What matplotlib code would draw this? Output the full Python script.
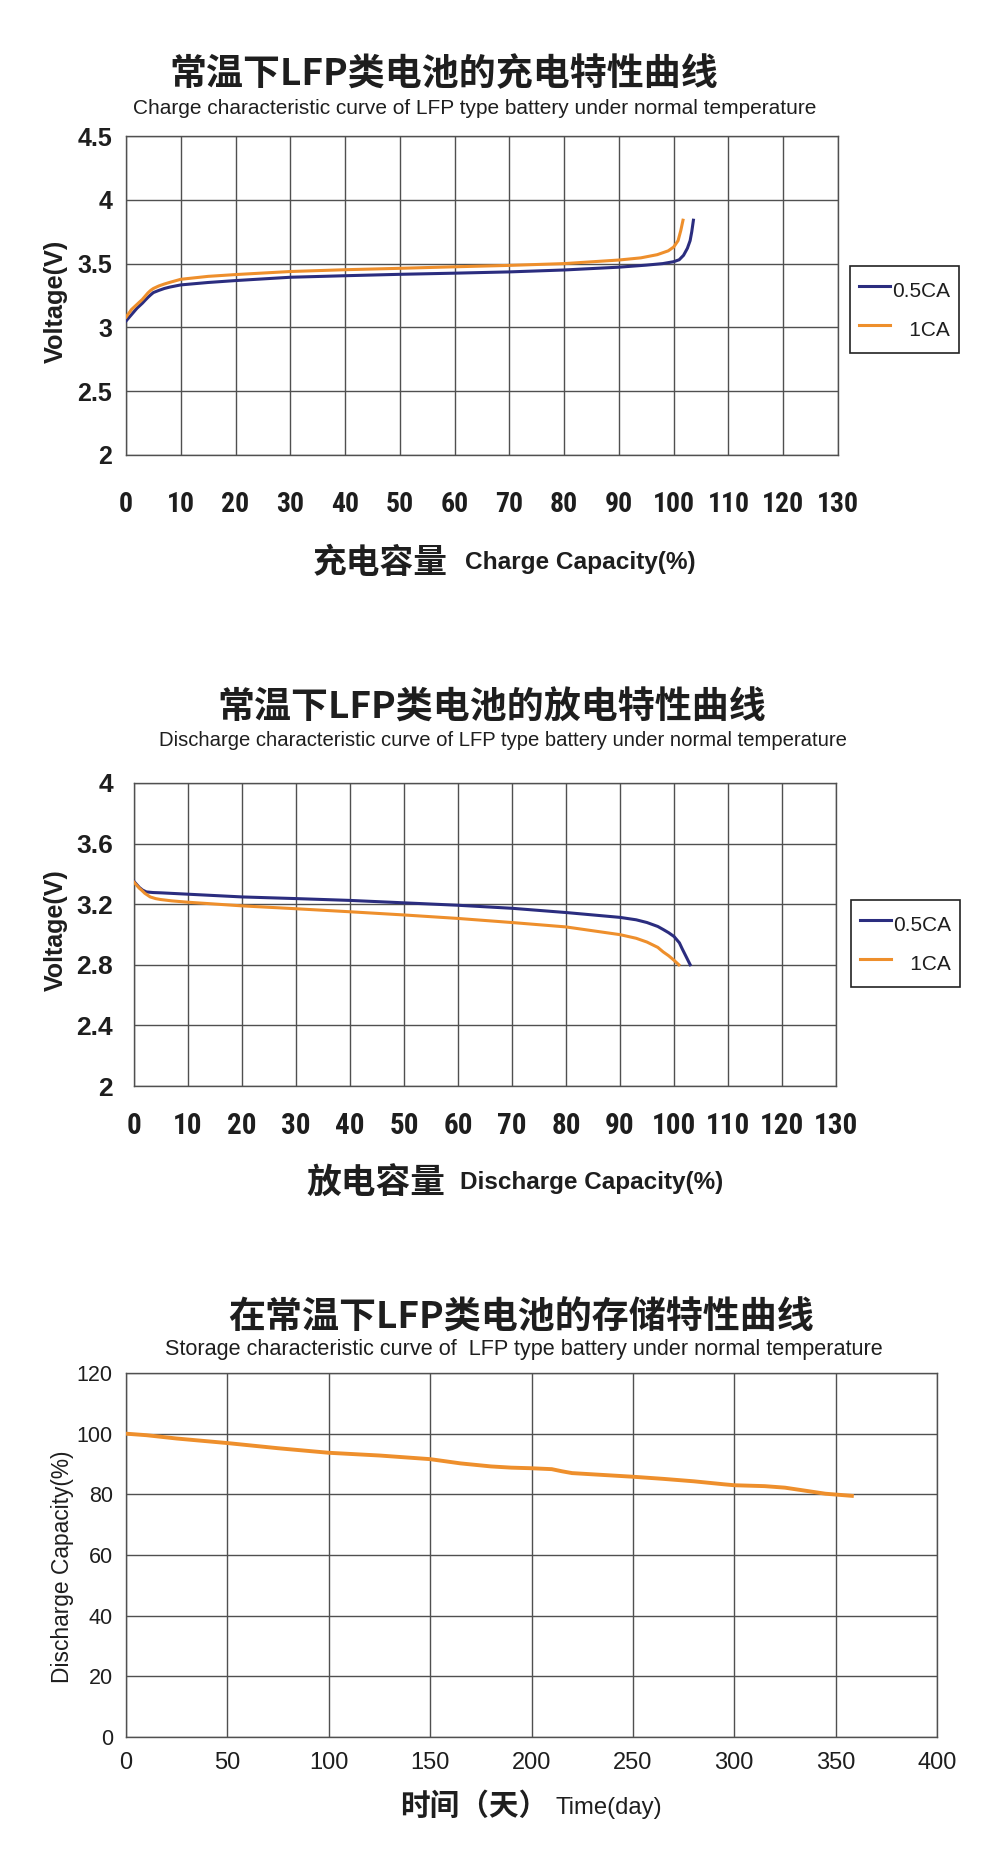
import matplotlib
matplotlib.use('Agg')
import matplotlib.pyplot as plt
from matplotlib import font_manager

W, H = 1000, 1866

# ---- charge curve (capacity %, voltage V) ----
charge_x_05 = [0, 0.5, 1, 1.5, 2, 2.5, 3, 3.5, 4, 4.5, 5, 6, 7, 8, 10, 15, 20, 30, 40,
               50, 60, 70, 80, 90, 95, 98, 100, 101, 101.8, 102.5, 103, 103.3, 103.6]
charge_v_05 = [3.05, 3.075, 3.10, 3.125, 3.15, 3.17, 3.19, 3.213, 3.235, 3.255, 3.273,
               3.29, 3.305, 3.316, 3.333, 3.352, 3.367, 3.393, 3.405, 3.416, 3.425,
               3.435, 3.45, 3.472, 3.488, 3.50, 3.515, 3.53, 3.565, 3.62, 3.68, 3.75,
               3.84]
charge_x_1 = [0, 0.5, 1, 1.5, 2, 2.5, 3, 3.5, 4, 4.5, 5, 6, 7, 8, 10, 15, 20, 30, 40,
              50, 60, 70, 80, 90, 94, 97, 99, 100, 100.8, 101.3, 101.7]
charge_v_1 = [3.08, 3.11, 3.14, 3.16, 3.18, 3.20, 3.22, 3.245, 3.27, 3.29, 3.305, 3.325,
              3.34, 3.353, 3.377, 3.40, 3.414, 3.438, 3.452, 3.463, 3.475, 3.486, 3.50,
              3.528, 3.545, 3.57, 3.60, 3.63, 3.68, 3.76, 3.84]

# ---- discharge curve ----
dis_x_05 = [0, 0.5, 1, 1.6, 2.3, 3.5, 5, 10, 20, 30, 40, 50, 60, 70, 80, 90, 93, 95,
            97, 98, 99, 100, 101, 101.5, 102.3, 103]
dis_v_05 = [3.35, 3.33, 3.31, 3.293, 3.281, 3.277, 3.275, 3.266, 3.248, 3.237, 3.225,
            3.209, 3.193, 3.173, 3.145, 3.113, 3.097, 3.079, 3.053, 3.033, 3.012, 2.987,
            2.945, 2.907, 2.85, 2.80]
dis_x_1 = [0, 0.5, 1, 1.4, 2, 3, 4, 4.9, 7, 10, 20, 30, 40, 50, 60, 70, 80, 90, 93,
           95, 97, 98, 99, 100, 100.9]
dis_v_1 = [3.345, 3.325, 3.305, 3.293, 3.272, 3.248, 3.237, 3.231, 3.222, 3.213, 3.189,
           3.17, 3.15, 3.129, 3.106, 3.079, 3.05, 2.999, 2.975, 2.95, 2.915, 2.885,
           2.86, 2.83, 2.80]

# ---- storage curve (days, discharge capacity %) ----
store_days = [0, 10, 25, 50, 75, 100, 125, 150, 165, 180, 190, 200, 210, 215, 220,
              235, 250, 265, 280, 295, 300, 315, 325, 335, 345, 358]
store_cap = [100, 99.5, 98.4, 96.9, 95.2, 93.7, 92.8, 91.6, 90.2, 89.2, 88.8, 88.6,
             88.3, 87.6, 87.0, 86.4, 85.8, 85.1, 84.3, 83.3, 83.0, 82.7, 82.2, 81.2,
             80.2, 79.5]

cap_ticks = list(range(0, 131, 10))
charge_vticks = [2, 2.5, 3, 3.5, 4, 4.5]
charge_vlabels = ['2', '2.5', '3', '3.5', '4', '4.5']
dis_vticks = [2, 2.4, 2.8, 3.2, 3.6, 4]
dis_vlabels = ['2', '2.4', '2.8', '3.2', '3.6', '4']
day_ticks = list(range(0, 401, 50))
store_ticks = list(range(0, 121, 20))
legend_labels = ['0.5CA', '   1CA']

installed = {f.name for f in font_manager.fontManager.ttflist}
SANS = 'Liberation Sans' if 'Liberation Sans' in installed else 'DejaVu Sans'
NARROW = SANS
for cand in ['Liberation Sans Narrow', 'Roboto Condensed', 'DejaVu Sans Condensed',
             'Open Sans Condensed', 'Noto Sans Condensed']:
    if cand in installed:
        NARROW = cand
        break
CJK = 'Noto Sans CJK SC'

NAVY = '#2b2d7f'
ORANGE = '#ee8f2c'
GRID = '#505050'
TXT = '#1e1e1e'

fig = plt.figure(figsize=(W / 100, H / 100), dpi=100)
renderer = fig.canvas.get_renderer()


def px_axes(left, top, right, bottom):
    return fig.add_axes([left / W, 1 - bottom / H, (right - left) / W, (bottom - top) / H])


def put(x, y, s, width=None, **kw):
    """ place text at pixel position, optionally fit its length to a pixel size """
    t = fig.text(x / W, 1 - y / H, s, color=TXT, **kw)
    if width:
        ext = t.get_window_extent(renderer)
        length = ext.height if kw.get('rotation') else ext.width
        t.set_fontsize(t.get_fontsize() * width / length)
    return t


def style(ax, xlim, ylim, xticks, yticks, ylabels, xfont, yfont, xpad, ypad):
    ax.set_xlim(xlim)
    ax.set_ylim(ylim)
    ax.set_xticks(xticks)
    ax.set_yticks(yticks)
    ax.set_xticklabels([str(v) for v in xticks], color=TXT, **xfont)
    ax.set_yticklabels(ylabels, color=TXT, **yfont)
    ax.grid(True, color=GRID, lw=1.0)
    ax.set_axisbelow(True)
    ax.tick_params(axis='x', length=0, pad=xpad)
    ax.tick_params(axis='y', length=0, pad=ypad)
    for sp in ax.spines.values():
        sp.set_color(GRID)
        sp.set_linewidth(1.0)


def add_legend(ax, x, y):
    leg = ax.legend(legend_labels, loc='upper left', bbox_to_anchor=(x / W, 1 - y / H),
                    bbox_transform=fig.transFigure, frameon=True, fancybox=False,
                    framealpha=1, edgecolor='#222222', borderaxespad=0,
                    prop={'family': SANS, 'size': 15}, handlelength=1.45,
                    handleheight=1.75, handletextpad=0.1, labelspacing=0.5,
                    borderpad=0.45)
    leg.get_frame().set_linewidth(1.2)
    for t in leg.get_texts():
        t.set_color(TXT)
    return leg


# ---------------- chart 1: charge ----------------
ax1 = px_axes(126, 136, 838, 455)
ax1.plot(charge_x_05, charge_v_05, color=NAVY, lw=2.2, zorder=3)
ax1.plot(charge_x_1, charge_v_1, color=ORANGE, lw=2.2, zorder=3)
style(ax1, (0, 130), (2, 4.5), cap_ticks, charge_vticks, charge_vlabels,
      {'family': NARROW, 'fontsize': 20, 'fontweight': 'bold'},
      {'family': SANS, 'fontsize': 18, 'fontweight': 'bold'}, 26, 10)
add_legend(ax1, 850, 266)
put(444, 75, '常温下LFP类电池的充电特性曲线', width=548, family=CJK, fontsize=26,
    fontweight='bold', ha='center', va='center')
put(475, 108, 'Charge characteristic curve of LFP type battery under normal temperature',
    width=688, family=SANS, fontsize=14, ha='center', va='center')
put(313, 563, '充电容量', width=135, family=CJK, fontsize=24, fontweight='bold',
    ha='left', va='center')
put(465, 563, 'Charge Capacity(%)', width=230, family=SANS, fontsize=17.5,
    fontweight='bold', ha='left', va='center')
put(56, 301, 'Voltage(V)', width=124, family=SANS, fontsize=16, fontweight='bold',
    rotation=90, ha='center', va='center')

# ---------------- chart 2: discharge ----------------
ax2 = px_axes(134, 783, 836, 1086)
ax2.plot(dis_x_05, dis_v_05, color=NAVY, lw=2.2, zorder=3)
ax2.plot(dis_x_1, dis_v_1, color=ORANGE, lw=2.2, zorder=3)
style(ax2, (0, 130), (2, 4), cap_ticks, dis_vticks, dis_vlabels,
      {'family': NARROW, 'fontsize': 21, 'fontweight': 'bold'},
      {'family': SANS, 'fontsize': 19, 'fontweight': 'bold'}, 18.5, 15)
add_legend(ax2, 851, 900)
put(492, 708, '常温下LFP类电池的放电特性曲线', width=548, family=CJK, fontsize=26,
    fontweight='bold', ha='center', va='center')
put(503, 740, 'Discharge characteristic curve of LFP type battery under normal temperature',
    width=692, family=SANS, fontsize=14, ha='center', va='center')
put(306, 1183, '放电容量', width=139, family=CJK, fontsize=25, fontweight='bold',
    ha='left', va='center')
put(460, 1183, 'Discharge Capacity(%)', width=263, family=SANS, fontsize=17.5,
    fontweight='bold', ha='left', va='center')
put(56, 930, 'Voltage(V)', width=122, family=SANS, fontsize=16, fontweight='bold',
    rotation=90, ha='center', va='center')

# ---------------- chart 3: storage ----------------
ax3 = px_axes(126, 1373, 937, 1737)
ax3.plot(store_days, store_cap, color=ORANGE, lw=2.8, zorder=3)
style(ax3, (0, 400), (0, 120), day_ticks, store_ticks, [str(v) for v in store_ticks],
      {'family': SANS, 'fontsize': 17},
      {'family': SANS, 'fontsize': 15.5}, 11, 9.5)
put(521, 1318, '在常温下LFP类电池的存储特性曲线', width=586, family=CJK, fontsize=26,
    fontweight='bold', ha='center', va='center')
put(524, 1350, 'Storage characteristic curve of  LFP type battery under normal temperature',
    width=722, family=SANS, fontsize=14, ha='center', va='center')
put(400, 1806, '时间（天）', width=148, family=CJK, fontsize=22, fontweight='bold',
    ha='left', va='center')
put(556, 1808, 'Time(day)', width=107, family=SANS, fontsize=17, ha='left', va='center')
put(62, 1567, 'Discharge Capacity(%)', width=233, family=SANS, fontsize=16.5,
    rotation=90, ha='center', va='center')

fig.savefig('out.png', dpi=100, facecolor='white')
